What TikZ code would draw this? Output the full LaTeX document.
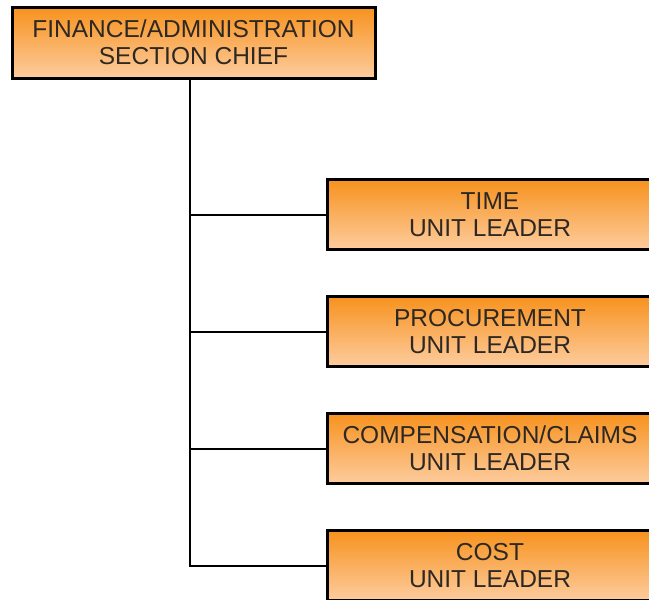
\documentclass[tikz,border=0pt]{standalone}
\usepackage{fontspec}
\setmainfont{Liberation Sans}
\usetikzlibrary{positioning}
\definecolor{boxtop}{RGB}{247,146,30}
\definecolor{boxbot}{RGB}{253,204,158}
\definecolor{ink}{RGB}{45,40,35}
\tikzset{
  unitbox/.style={draw=black, line width=3pt, top color=boxtop, bottom color=boxbot,
    minimum width=326pt, minimum height=70pt, align=center, inner sep=0pt,
    text=ink, font=\fontsize{24.5}{27}\selectfont},
  link/.style={line width=2pt}
}
\begin{document}
\begin{tikzpicture}[x=1pt,y=-1pt,node distance=44pt]
  \useasboundingbox (0,0) rectangle (649,600);
  \clip (0,0) rectangle (649,600);
  \node[unitbox, minimum width=363pt, minimum height=71pt] (chief) at (193.5,42.5) {FINANCE/ADMINISTRATION\\SECTION CHIEF};
  \node[unitbox] (time) at (490,214.5) {TIME\\UNIT LEADER};
  \node[unitbox] (proc) [below=of time] {PROCUREMENT\\UNIT LEADER};
  \node[unitbox] (comp) [below=of proc] {COMPENSATION/CLAIMS\\UNIT LEADER};
  \node[unitbox] (cost) [below=of comp] {COST\\UNIT LEADER};
  % branches
  \draw[link] ([xshift=-3.5pt]chief.south) |- (time.west);
  \draw[link] ([xshift=-3.5pt]chief.south) |- (proc.west);
  \draw[link] ([xshift=-3.5pt]chief.south) |- (comp.west);
  \draw[link] ([xshift=-3.5pt]chief.south) |- (cost.west);
\end{tikzpicture}
\end{document}
